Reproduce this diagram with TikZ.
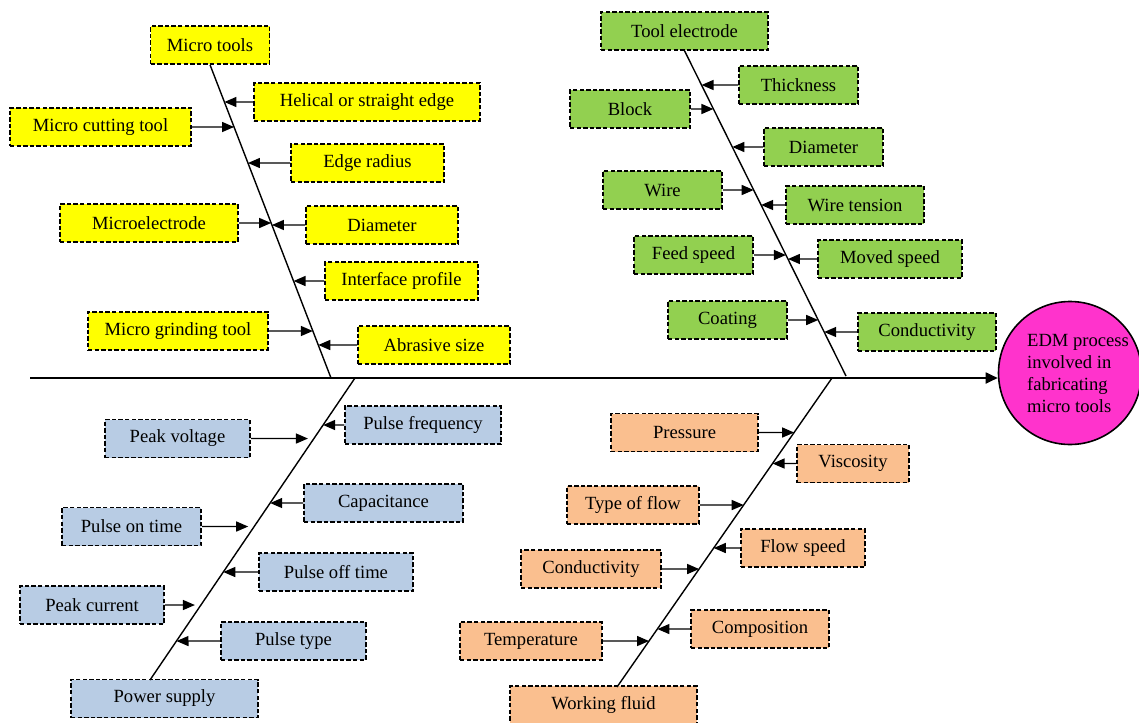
\documentclass[tikz,border=0pt]{standalone}
\usepackage{fontspec}
\setmainfont{Liberation Serif}
\usetikzlibrary{arrows.meta}
\definecolor{causeyellow}{RGB}{255,255,0}
\definecolor{causegreen}{RGB}{146,208,80}
\definecolor{causeblue}{RGB}{184,204,228}
\definecolor{causeorange}{RGB}{250,191,143}
\definecolor{effectpink}{RGB}{255,51,204}
\begin{document}
\begin{tikzpicture}
    [x=0.5pt, y=-0.5pt,
    box/.style={draw, dash pattern=on 2.2pt off 1.1pt, line width=0.75pt,
      minimum height=19pt, inner sep=0pt, font=\fontsize{9.3}{11}\selectfont},
    ybox/.style={box, fill=causeyellow},
    gbox/.style={box, fill=causegreen},
    bbox/.style={box, fill=causeblue},
    obox/.style={box, fill=causeorange},
    feed/.style={-{Triangle[length=6pt,width=5pt]}, line width=0.7pt},
    bone/.style={line width=0.7pt}]
    \useasboundingbox (0,0) rectangle (1139,722);
    % effect
    \node[circle, draw, fill=effectpink, line width=0.8pt, minimum size=71.5pt, inner sep=0pt,
      label={[align=left, xshift=4pt, font=\fontsize{9.3}{11}\selectfont]center:EDM process\\involved in\\fabricating\\micro tools}]
      (edm) at (1070,373) {};
    \coordinate (head) at (30,378);
    \draw[line width=0.9pt, -{Triangle[length=6pt,width=5.5pt]}] (head) -- (head -| edm.west);
    % micro tools
    \node[ybox, minimum width=59.5pt] (mt) at (210,45) {Micro tools};
    \node[ybox, minimum width=113pt] (hel) at (367,102) {Helical or straight edge};
    \node[ybox, minimum width=90.5pt] (mct) at (100.5,127) {Micro cutting tool};
    \node[ybox, minimum width=76.5pt] (erad) at (367.5,163) {Edge radius};
    \node[ybox, minimum width=89pt] (mel) at (149,223) {Microelectrode};
    \node[ybox, minimum width=76pt] (dia) at (382,225) {Diameter};
    \node[ybox, minimum width=76.5pt] (ifp) at (401.5,281) {Interface profile};
    \node[ybox, minimum width=90pt] (mgt) at (178,331) {Micro grinding tool};
    \node[ybox, minimum width=76pt] (abr) at (434,345) {Abrasive size};
    \coordinate (tlend) at (331,378);
    \draw[bone] (mt.south) -- (tlend);
    \draw[feed] (hel.west) -- (intersection of mt.south--tlend and hel.west--hel.east);
    \draw[feed] (mct.east) -- (intersection of mt.south--tlend and mct.west--mct.east);
    \draw[feed] (erad.west) -- (intersection of mt.south--tlend and erad.west--erad.east);
    \draw[feed] (mel.east) -- (intersection of mt.south--tlend and mel.west--mel.east);
    \draw[feed] (dia.west) -- (intersection of mt.south--tlend and dia.west--dia.east);
    \draw[feed] (ifp.west) -- (intersection of mt.south--tlend and ifp.west--ifp.east);
    \draw[feed] (mgt.east) -- (intersection of mt.south--tlend and mgt.west--mgt.east);
    \draw[feed] (abr.west) -- (intersection of mt.south--tlend and abr.west--abr.east);
    % tool electrode
    \node[gbox, minimum width=83.5pt] (te) at (684.5,31) {Tool electrode};
    \node[gbox, minimum width=59.5pt] (thk) at (798.5,85) {Thickness};
    \node[gbox, minimum width=60pt] (blk) at (630,109) {Block};
    \node[gbox, minimum width=59.5pt] (tdia) at (823.5,147) {Diameter};
    \node[gbox, minimum width=59.5pt] (wire) at (662.5,190) {Wire};
    \node[gbox, minimum width=69pt] (wt) at (855,205) {Wire tension};
    \node[gbox, minimum width=59.5pt] (fs) at (693.5,255) {Feed speed};
    \node[gbox, minimum width=72pt] (ms) at (890,259) {Moved speed};
    \node[gbox, minimum width=59.5pt] (coat) at (727.5,320) {Coating};
    \node[gbox, minimum width=69pt] (tcond) at (927,332) {Conductivity};
    \coordinate (trend) at (846,376);
    \draw[bone] (te.south) -- (trend);
    \draw[feed] (thk.west) -- (intersection of te.south--trend and thk.west--thk.east);
    \draw[feed] (blk.east) -- (intersection of te.south--trend and blk.west--blk.east);
    \draw[feed] (tdia.west) -- (intersection of te.south--trend and tdia.west--tdia.east);
    \draw[feed] (wire.east) -- (intersection of te.south--trend and wire.west--wire.east);
    \draw[feed] (wt.west) -- (intersection of te.south--trend and wt.west--wt.east);
    \draw[feed] (fs.east) -- (intersection of te.south--trend and fs.west--fs.east);
    \draw[feed] (ms.west) -- (intersection of te.south--trend and ms.west--ms.east);
    \draw[feed] (coat.east) -- (intersection of te.south--trend and coat.west--coat.east);
    \draw[feed] (tcond.west) -- (intersection of te.south--trend and tcond.west--tcond.east);
    % power supply
    \node[bbox, minimum width=72.5pt] (pv) at (177.5,438.5) {Peak voltage};
    \node[bbox, minimum width=78pt] (pf) at (423,425) {Pulse frequency};
    \node[bbox, minimum width=79.5pt] (cap) at (383.5,503) {Capacitance};
    \node[bbox, minimum width=69.5pt] (pon) at (131.5,526.5) {Pulse on time};
    \node[bbox, minimum width=77pt] (poff) at (336,572) {Pulse off time};
    \node[bbox, minimum width=72pt] (pc) at (92,605) {Peak current};
    \node[bbox, minimum width=72.5pt] (ptype) at (293.5,641) {Pulse type};
    \node[bbox, minimum width=93.5pt] (ps) at (164.5,698.5) {Power supply};
    \coordinate (bltop) at (355,378);
    \coordinate (blbot) at (150,680);
    \draw[bone] (bltop) -- (blbot);
    \draw[feed, shorten >=3pt] (pv.east) -- (intersection of bltop--blbot and pv.west--pv.east);
    \draw[feed] (pf.west) -- (intersection of bltop--blbot and pf.west--pf.east);
    \draw[feed] (cap.west) -- (intersection of bltop--blbot and cap.west--cap.east);
    \draw[feed, shorten >=3pt] (pon.east) -- (intersection of bltop--blbot and pon.west--pon.east);
    \draw[feed] (poff.west) -- (intersection of bltop--blbot and poff.west--poff.east);
    \draw[feed, shorten >=3pt] (pc.east) -- (intersection of bltop--blbot and pc.west--pc.east);
    \draw[feed] (ptype.west) -- (intersection of bltop--blbot and ptype.west--ptype.east);
    % working fluid
    \node[obox, minimum width=73.5pt] (pr) at (684.5,432.5) {Pressure};
    \node[obox, minimum width=56pt] (vis) at (853,463.5) {Viscosity};
    \node[obox, minimum width=66pt] (tof) at (633,505) {Type of flow};
    \node[obox, minimum width=62pt] (fls) at (803,548) {Flow speed};
    \node[obox, minimum width=70pt] (fcond) at (591,569) {Conductivity};
    \node[obox, minimum width=69pt] (comp) at (760,629) {Composition};
    \node[obox, minimum width=71pt] (temp) at (531,641) {Temperature};
    \node[obox, minimum width=93.5pt] (wf) at (603.5,705) {Working fluid};
    \coordinate (brtop) at (832,378);
    \coordinate (brbot) at (617,687);
    \draw[bone] (brtop) -- (brbot);
    \draw[feed] (pr.east) -- (intersection of brtop--brbot and pr.west--pr.east);
    \draw[feed] (vis.west) -- (intersection of brtop--brbot and vis.west--vis.east);
    \draw[feed] (tof.east) -- (intersection of brtop--brbot and tof.west--tof.east);
    \draw[feed] (fls.west) -- (intersection of brtop--brbot and fls.west--fls.east);
    \draw[feed] (fcond.east) -- (intersection of brtop--brbot and fcond.west--fcond.east);
    \draw[feed] (comp.west) -- (intersection of brtop--brbot and comp.west--comp.east);
    \draw[feed] (temp.east) -- (intersection of brtop--brbot and temp.west--temp.east);
  \end{tikzpicture}
\end{document}
